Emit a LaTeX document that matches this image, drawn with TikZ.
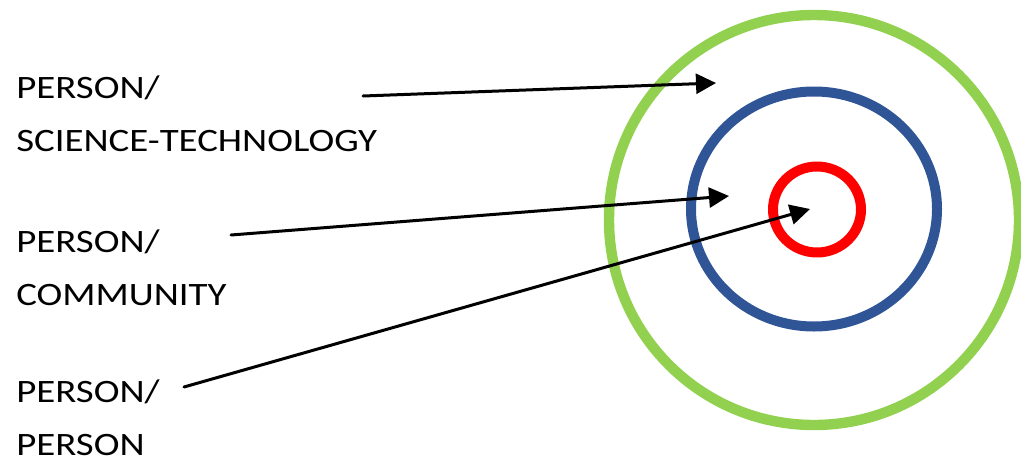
\documentclass[tikz,border=0pt]{standalone}
\usepackage{fontspec}
\setmainfont{Carlito}[FakeStretch=1.19]
\usetikzlibrary{arrows.meta}

\definecolor{ringgreen}{HTML}{92D050}
\definecolor{ringblue}{HTML}{2F5597}
\definecolor{ringred}{HTML}{FF0000}

\begin{document}
\begin{tikzpicture}[x=0.75pt, y=-0.75pt, line cap=round, line join=round,
    blocktext/.style={anchor=north west, inner sep=0pt, align=left,
      font=\fontsize{24.5}{39.75}\selectfont},
    ring/.style={line width=7.5pt},
    pointer/.style={line width=2.25pt, -{Triangle[length=15pt, width=15pt]}}]

    \useasboundingbox (0,0) rectangle (1021,464);

    % --- 1. Rings ---
    \draw[ring, ringgreen, line width=7.8pt] (814,220) circle [radius=205];
    \draw[ring, ringblue]  (814,209) ellipse [x radius=123, y radius=117.5];
    \draw[ring, ringred]   (817,209.5) ellipse [x radius=44, y radius=43];

    % --- 2. Labels ---
    \node[blocktext] (sci)    at (16,76)  {PERSON/\\SCIENCE-TECHNOLOGY};
    \node[blocktext] (comm)   at (16,230) {PERSON/\\COMMUNITY};
    \node[blocktext] (person) at (16,380) {PERSON/\\PERSON};

    % --- 3. Pointers ---
    \coordinate (sci-from)    at (363,96);
    \coordinate (sci-to)      at (716,83);
    \coordinate (comm-from)   at (231,235);
    \coordinate (comm-to)     at (729,196);
    \coordinate (person-from) at (184,387);
    \coordinate (person-to)   at (810,209);

    \draw[pointer] (sci-from) -- (sci-to);
    \draw[pointer] (comm-from) -- (comm-to);
    \draw[pointer] (person-from) -- (person-to);
\end{tikzpicture}
\end{document}
